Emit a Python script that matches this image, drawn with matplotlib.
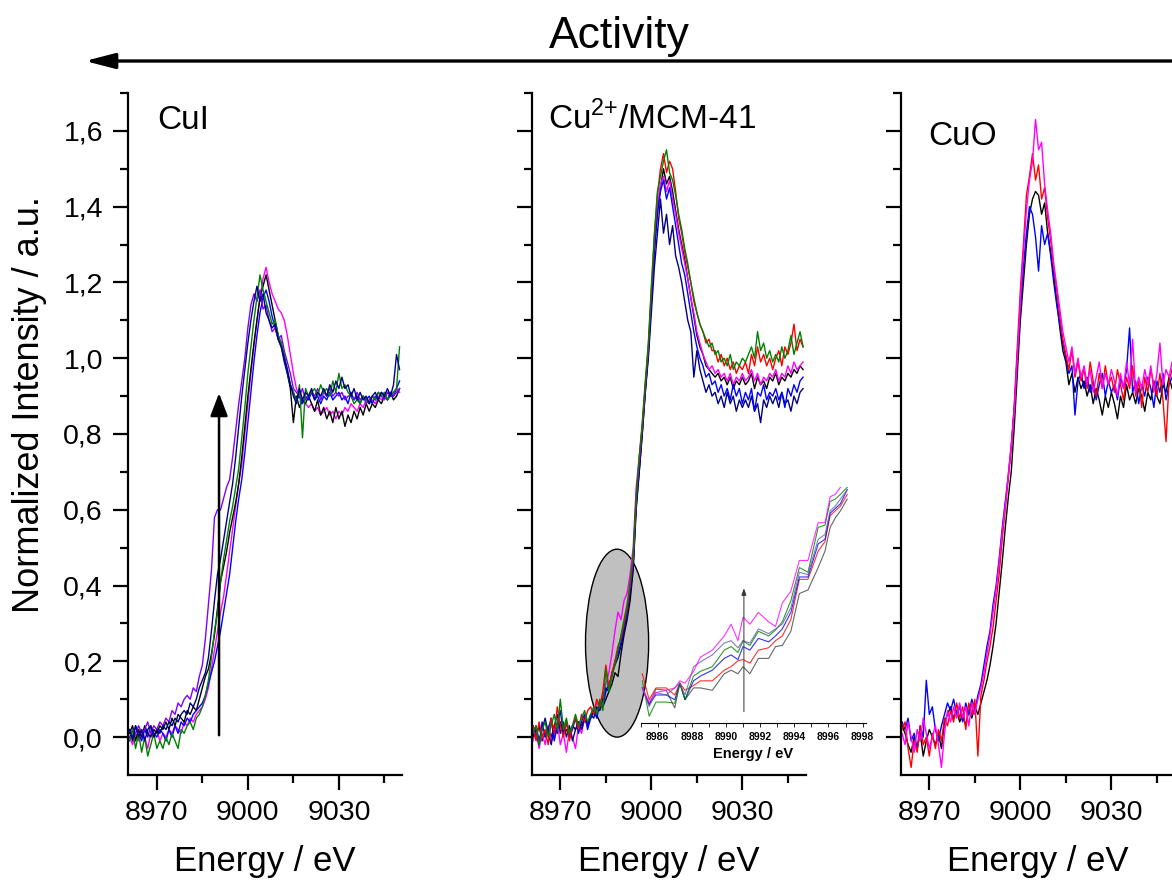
"""Cu K-edge XANES of CuI, Cu2+/MCM-41 and CuO, ordered by activity."""
import numpy as np
import matplotlib
matplotlib.use("Agg")
import matplotlib.pyplot as plt
from matplotlib.patches import Ellipse, FancyArrowPatch
from matplotlib.ticker import FixedLocator, FuncFormatter

plt.rcParams["font.family"] = ["Liberation Sans", "DejaVu Sans"]
plt.rcParams["mathtext.fontset"] = "custom"
plt.rcParams["mathtext.rm"] = "Liberation Sans"

W, H = 1172, 881

# shared energy grid of the main panels, 8961 .. 9050 eV
energy = np.arange(8961, 9051, 1.0)

# ---------------- CuI ----------------
cui_navy = [
    0.02, -0.01, 0.03, 0.00, 0.02, -0.01, 0.02, 0.03, 0.00, 0.02,
    0.01, 0.03, 0.02, 0.04, 0.03, 0.05, 0.04, 0.06, 0.07, 0.06,
    0.09, 0.08, 0.10, 0.13, 0.15, 0.17, 0.21, 0.28, 0.36, 0.43,
    0.47, 0.52, 0.57, 0.62, 0.67, 0.74, 0.82, 0.90, 0.97, 1.04,
    1.10, 1.15, 1.19, 1.15, 1.17, 1.12, 1.10, 1.08, 1.09, 1.05,
    1.03, 1.00, 0.97, 0.93, 0.90, 0.88, 0.92, 0.89, 0.91, 0.90,
    0.92, 0.89, 0.91, 0.90, 0.92, 0.90, 0.93, 0.91, 0.94, 0.92,
    0.95, 0.92, 0.93, 0.90, 0.92, 0.89, 0.91, 0.89, 0.90, 0.88,
    0.90, 0.91, 0.89, 0.91, 0.90, 0.92, 0.90, 0.93, 1.01, 0.97,
]
cui_violet = [
    0.00, 0.02, 0.01, 0.03, 0.01, 0.02, 0.04, 0.01, 0.03, 0.02,
    0.04, 0.03, 0.05, 0.04, 0.07, 0.06, 0.09, 0.08, 0.10, 0.11,
    0.10, 0.13, 0.12, 0.16, 0.19, 0.26, 0.35, 0.44, 0.58, 0.60,
    0.60, 0.63, 0.66, 0.68, 0.74, 0.81, 0.88, 0.94, 1.00, 1.08,
    1.14, 1.17, 1.15, 1.18, 1.13, 1.14, 1.10, 1.07, 1.08, 1.05,
    1.06, 1.02, 0.99, 0.96, 0.92, 0.91, 0.90, 0.92, 0.89, 0.90,
    0.91, 0.90, 0.92, 0.89, 0.91, 0.90, 0.92, 0.90, 0.91, 0.90,
    0.91, 0.89, 0.90, 0.90, 0.89, 0.91, 0.89, 0.90, 0.88, 0.89,
    0.90, 0.89, 0.91, 0.90, 0.89, 0.91, 0.90, 0.90, 0.91, 0.92,
]
cui_green = [
    -0.01, 0.02, -0.03, 0.01, -0.04, 0.00, -0.05, -0.02, 0.01, -0.03,
    -0.01, -0.03, 0.00, -0.02, 0.01, -0.01, -0.03, 0.02, 0.01, 0.03,
    0.04, 0.02, 0.05, 0.06, 0.08, 0.11, 0.15, 0.21, 0.28, 0.33,
    0.41, 0.47, 0.52, 0.57, 0.61, 0.66, 0.71, 0.79, 0.87, 0.96,
    1.03, 1.10, 1.16, 1.22, 1.18, 1.15, 1.12, 1.09, 1.10, 1.06,
    1.04, 1.01, 0.97, 0.93, 0.91, 0.88, 0.93, 0.79, 0.92, 0.90,
    0.91, 0.92, 0.90, 0.93, 0.91, 0.92, 0.90, 0.94, 0.91, 0.96,
    0.92, 0.93, 0.91, 0.90, 0.88, 0.89, 0.88, 0.90, 0.89, 0.88,
    0.90, 0.89, 0.91, 0.90, 0.91, 0.89, 0.90, 0.91, 0.92, 1.03,
]
cui_black = [
    0.01, 0.03, -0.01, 0.02, 0.00, 0.03, 0.01, 0.00, 0.02, 0.01,
    0.03, 0.02, 0.04, 0.02, 0.05, 0.03, 0.06, 0.05, 0.04, 0.07,
    0.06, 0.08, 0.07, 0.10, 0.13, 0.16, 0.18, 0.22, 0.27, 0.34,
    0.41, 0.45, 0.49, 0.54, 0.58, 0.62, 0.67, 0.74, 0.82, 0.90,
    0.97, 1.04, 1.10, 1.16, 1.19, 1.22, 1.18, 1.14, 1.10, 1.06,
    1.04, 1.00, 0.96, 0.92, 0.83, 0.90, 0.87, 0.89, 0.88, 0.90,
    0.88, 0.86, 0.89, 0.85, 0.87, 0.84, 0.86, 0.83, 0.87, 0.84,
    0.86, 0.82, 0.85, 0.83, 0.86, 0.84, 0.87, 0.85, 0.88, 0.86,
    0.88, 0.87, 0.89, 0.88, 0.90, 0.89, 0.91, 0.89, 0.90, 0.92,
]
cui_magenta = [
    0.00, -0.02, 0.01, -0.01, 0.02, 0.00, -0.03, 0.01, 0.00, 0.02,
    -0.01, 0.01, 0.00, 0.02, 0.01, 0.03, 0.02, 0.01, 0.04, 0.03,
    0.05, 0.04, 0.06, 0.07, 0.08, 0.10, 0.13, 0.18, 0.23, 0.28,
    0.33, 0.37, 0.43, 0.49, 0.55, 0.61, 0.67, 0.72, 0.80, 0.88,
    0.96, 1.03, 1.10, 1.16, 1.21, 1.24, 1.20, 1.17, 1.15, 1.13,
    1.12, 1.10, 1.06, 1.01, 0.96, 0.92, 0.90, 0.89, 0.88, 0.87,
    0.88, 0.86, 0.87, 0.85, 0.86, 0.87, 0.85, 0.86, 0.84, 0.86,
    0.85, 0.87, 0.86, 0.88, 0.87, 0.86, 0.88, 0.87, 0.89, 0.88,
    0.89, 0.88, 0.90, 0.89, 0.90, 0.91, 0.90, 0.91, 0.92, 0.91,
]
cui_blue = [
    0.02, 0.00, 0.03, 0.01, -0.01, 0.02, 0.00, 0.03, 0.01, 0.00,
    0.02, 0.01, -0.01, 0.02, 0.00, 0.03, 0.01, 0.04, 0.03, 0.05,
    0.04, 0.06, 0.07, 0.08, 0.09, 0.11, 0.14, 0.17, 0.20, 0.24,
    0.28, 0.33, 0.38, 0.43, 0.50, 0.57, 0.63, 0.68, 0.75, 0.83,
    0.91, 0.99, 1.06, 1.12, 1.16, 1.18, 1.15, 1.11, 1.08, 1.05,
    1.03, 0.99, 0.96, 0.93, 0.91, 0.89, 0.90, 0.88, 0.90, 0.89,
    0.91, 0.89, 0.90, 0.88, 0.90, 0.89, 0.91, 0.89, 0.90, 0.91,
    0.89, 0.90, 0.88, 0.91, 0.89, 0.90, 0.88, 0.90, 0.89, 0.90,
    0.88, 0.90, 0.89, 0.91, 0.90, 0.89, 0.91, 0.90, 0.92, 0.94,
]

# ---------------- Cu2+/MCM-41 ----------------
mcm_black = [
    0.02, 0.00, 0.03, -0.01, 0.01, 0.02, 0.00, 0.03, 0.01, 0.04,
    0.01, 0.02, 0.00, 0.03, 0.02, 0.04, 0.03, 0.05, 0.04, 0.05,
    0.07, 0.06, 0.09, 0.08, 0.10, 0.12, 0.14, 0.17, 0.16, 0.22,
    0.27, 0.31, 0.36, 0.44, 0.60, 0.70, 0.80, 0.91, 1.01, 1.15,
    1.29, 1.39, 1.45, 1.50, 1.46, 1.48, 1.44, 1.39, 1.34, 1.30,
    1.26, 1.21, 1.16, 1.11, 1.06, 1.03, 1.01, 0.98, 0.97, 0.96,
    0.95, 0.96, 0.94, 0.95, 0.93, 0.95, 0.92, 0.94, 0.93, 0.95,
    0.93, 0.94, 0.96, 0.92, 0.95, 0.93, 0.94, 0.92, 0.95, 0.94,
    0.96, 0.93, 0.95, 0.94, 0.96, 0.95, 0.97, 0.96, 0.98, 0.97,
]
mcm_magenta = [
    -0.01, 0.02, -0.03, 0.01, -0.02, 0.03, -0.01, 0.00, 0.04, -0.02,
    0.01, -0.04, 0.02, 0.00, -0.03, 0.03, 0.01, 0.05, 0.03, 0.06,
    0.07, 0.09, 0.08, 0.11, 0.14, 0.17, 0.22, 0.28, 0.33, 0.31,
    0.36, 0.38, 0.43, 0.50, 0.66, 0.74, 0.82, 0.92, 1.02, 1.16,
    1.30, 1.40, 1.46, 1.48, 1.44, 1.47, 1.42, 1.38, 1.33, 1.29,
    1.25, 1.21, 1.16, 1.12, 1.07, 1.04, 1.01, 0.99, 0.97, 0.98,
    0.96, 0.97, 0.95, 0.96, 0.94, 0.96, 0.93, 0.95, 0.94, 0.96,
    0.94, 0.95, 0.97, 0.94, 0.96, 0.93, 0.95, 0.94, 0.96, 0.95,
    0.97, 0.94, 0.96, 0.95, 0.98, 0.96, 0.99, 0.97, 0.98, 0.99,
]
mcm_navy = [
    0.00, 0.03, -0.01, 0.02, 0.05, 0.01, -0.02, 0.03, 0.06, 0.01,
    0.04, 0.00, 0.03, -0.01, 0.02, 0.04, 0.02, 0.05, 0.03, 0.06,
    0.05, 0.08, 0.07, 0.10, 0.13, 0.12, 0.17, 0.19, 0.21, 0.24,
    0.28, 0.33, 0.38, 0.45, 0.61, 0.70, 0.80, 0.91, 1.00, 1.12,
    1.24, 1.33, 1.42, 1.33, 1.38, 1.30, 1.35, 1.27, 1.24, 1.20,
    1.15, 1.10, 1.07, 0.95, 1.02, 0.97, 0.94, 0.91, 0.93, 0.90,
    0.91, 0.88, 0.90, 0.87, 0.91, 0.88, 0.90, 0.86, 0.89, 0.87,
    0.89, 0.87, 0.90, 0.86, 0.88, 0.83, 0.89, 0.87, 0.90, 0.88,
    0.90, 0.87, 0.91, 0.88, 0.89, 0.86, 0.90, 0.88, 0.91, 0.92,
]
mcm_blue = [
    0.03, 0.01, -0.02, 0.04, 0.00, 0.02, 0.05, -0.01, 0.03, 0.07,
    0.01, 0.04, 0.00, 0.02, 0.05, 0.01, 0.04, 0.06, 0.02, 0.05,
    0.07, 0.05, 0.09, 0.08, 0.12, 0.14, 0.16, 0.20, 0.22, 0.25,
    0.29, 0.33, 0.39, 0.46, 0.62, 0.71, 0.81, 0.92, 1.02, 1.15,
    1.28, 1.38, 1.44, 1.47, 1.42, 1.45, 1.40, 1.35, 1.30, 1.25,
    1.22, 1.17, 1.12, 1.07, 1.03, 1.00, 0.98, 0.95, 0.96, 0.93,
    0.94, 0.91, 0.93, 0.90, 0.92, 0.89, 0.93, 0.90, 0.92, 0.88,
    0.91, 0.89, 0.92, 0.86, 0.91, 0.90, 0.93, 0.89, 0.91, 0.90,
    0.92, 0.89, 0.91, 0.87, 0.92, 0.90, 0.93, 0.91, 0.94, 0.95,
]
mcm_red = [
    0.03, -0.01, 0.04, 0.00, 0.02, -0.02, 0.05, 0.01, 0.08, 0.03,
    0.00, 0.04, -0.01, 0.03, 0.05, 0.02, 0.06, 0.04, 0.07, 0.08,
    0.06, 0.10, 0.08, 0.12, 0.19, 0.13, 0.17, 0.20, 0.24, 0.26,
    0.30, 0.34, 0.40, 0.47, 0.64, 0.73, 0.82, 0.93, 1.03, 1.18,
    1.32, 1.43, 1.50, 1.54, 1.49, 1.52, 1.50, 1.44, 1.37, 1.33,
    1.28, 1.24, 1.20, 1.15, 1.12, 1.09, 1.07, 1.04, 1.05, 1.02,
    1.02, 0.99, 1.01, 0.98, 1.00, 0.97, 0.99, 0.96, 0.98, 0.97,
    0.99, 0.96, 1.01, 0.98, 1.03, 0.99, 1.01, 0.98, 1.00, 0.97,
    1.00, 1.02, 0.98, 1.03, 1.01, 1.04, 1.09, 1.02, 1.05, 1.03,
]
mcm_green = [
    0.01, 0.03, -0.02, 0.02, 0.04, 0.00, 0.03, 0.06, 0.02, 0.10,
    0.02, 0.05, 0.01, 0.03, 0.06, 0.03, 0.05, 0.07, 0.04, 0.06,
    0.08, 0.06, 0.10, 0.07, 0.18, 0.12, 0.16, 0.19, 0.23, 0.27,
    0.31, 0.35, 0.41, 0.48, 0.63, 0.74, 0.83, 0.94, 1.04, 1.19,
    1.33, 1.44, 1.48, 1.52, 1.55, 1.49, 1.47, 1.43, 1.38, 1.34,
    1.29, 1.25, 1.20, 1.16, 1.12, 1.09, 1.07, 1.05, 1.03, 1.04,
    1.01, 1.02, 0.99, 1.00, 0.98, 1.01, 0.97, 0.99, 0.98, 1.00,
    0.99, 1.01, 1.03, 1.00, 1.07, 1.02, 1.04, 1.00, 1.02, 0.99,
    1.01, 0.99, 1.03, 1.00, 1.02, 1.06, 1.01, 1.04, 1.07, 1.03,
]

# ---------------- CuO ----------------
cuo_black = [
    0.03, 0.01, -0.02, -0.04, 0.00, -0.03, 0.01, -0.05, -0.01, 0.02,
    0.00, -0.02, 0.01, -0.03, 0.04, 0.06, 0.08, 0.05, 0.07, 0.04,
    0.06, 0.03, 0.07, 0.05, 0.08, 0.06, 0.09, 0.12, 0.15, 0.19,
    0.24, 0.30, 0.38, 0.46, 0.55, 0.63, 0.70, 0.82, 0.96, 1.10,
    1.20, 1.30, 1.38, 1.42, 1.44, 1.43, 1.38, 1.41, 1.33, 1.28,
    1.22, 1.15, 1.08, 1.02, 0.99, 0.93, 0.96, 0.91, 0.95, 0.92,
    0.94, 0.90, 0.93, 0.88, 0.92, 0.89, 0.85, 0.90, 0.87, 0.91,
    0.88, 0.84, 0.90, 0.87, 0.93, 0.89, 0.91, 0.88, 0.92, 0.90,
    0.86, 0.91, 0.89, 0.94, 0.90, 0.88, 0.93, 0.91, 0.95, 0.92,
]
cuo_blue = [
    0.04, 0.02, 0.05, -0.01, 0.01, -0.03, 0.03, 0.00, 0.15, 0.06,
    0.08, 0.02, -0.01, 0.03, 0.06, 0.09, 0.07, 0.10, 0.06, 0.08,
    0.04, 0.09, 0.06, 0.10, 0.07, 0.11, 0.14, 0.19, 0.24, 0.28,
    0.35, 0.40, 0.47, 0.55, 0.62, 0.69, 0.77, 0.87, 1.01, 1.13,
    1.24, 1.33, 1.40, 1.38, 1.32, 1.23, 1.35, 1.30, 1.33, 1.27,
    1.20, 1.14, 1.09, 1.04, 1.00, 0.96, 0.98, 0.85, 0.94, 0.96,
    0.92, 0.95, 0.91, 0.94, 0.89, 0.93, 0.96, 0.90, 0.94, 0.91,
    0.93, 0.89, 0.95, 0.92, 0.97, 1.08, 0.91, 0.94, 0.88, 0.93,
    0.90, 0.95, 0.92, 0.87, 0.94, 0.91, 0.96, 0.89, 0.93, 0.95,
]
cuo_red = [
    0.02, 0.04, -0.03, -0.08, -0.01, -0.04, 0.03, -0.02, 0.00, -0.05,
    0.01, -0.03, 0.02, -0.01, 0.05, 0.03, 0.07, 0.04, 0.09, 0.05,
    0.08, 0.02, 0.09, 0.06, 0.10, -0.05, 0.11, 0.15, 0.20, 0.24,
    0.29, 0.36, 0.43, 0.52, 0.60, 0.68, 0.76, 0.88, 1.03, 1.18,
    1.30, 1.43, 1.48, 1.54, 1.47, 1.51, 1.42, 1.45, 1.37, 1.31,
    1.24, 1.18, 1.11, 1.05, 1.01, 0.97, 1.02, 0.95, 0.99, 0.94,
    0.97, 0.92, 0.99, 0.94, 0.90, 0.96, 0.92, 0.98, 0.93, 0.95,
    0.91, 0.97, 0.93, 0.89, 0.95, 0.92, 0.98, 0.90, 0.94, 0.87,
    0.95, 0.91, 0.97, 0.93, 0.90, 0.96, 0.89, 0.78, 0.94, 0.97,
]
cuo_magenta = [
    0.01, -0.02, 0.04, 0.00, -0.04, 0.02, -0.01, 0.05, 0.01, -0.03,
    0.00, 0.03, -0.02, -0.08, 0.01, 0.07, 0.04, 0.08, 0.05, 0.09,
    0.05, 0.08, 0.03, 0.09, 0.06, 0.10, 0.13, 0.17, 0.22, 0.27,
    0.33, 0.39, 0.46, 0.54, 0.61, 0.69, 0.77, 0.86, 1.00, 1.15,
    1.28, 1.39, 1.47, 1.52, 1.63, 1.55, 1.57, 1.46, 1.39, 1.33,
    1.25, 1.19, 1.13, 1.07, 1.03, 0.99, 1.03, 0.96, 1.00, 0.95,
    0.98, 0.93, 0.97, 0.91, 0.95, 0.99, 0.92, 0.96, 0.93, 0.97,
    0.94, 0.90, 0.96, 0.92, 0.99, 0.93, 1.05, 0.91, 0.95, 0.92,
    0.97, 0.93, 0.98, 0.91, 0.96, 1.04, 0.93, 0.97, 0.95, 0.99,
]

# ---------------- inset: pre-edge zoom of Cu2+/MCM-41 (relative scale) ----------------
inset_energy = [
    8985.1, 8985.5, 8985.9, 8986.5, 8987.0, 8987.3, 8987.6, 8988.1, 8988.5, 8989.2,
    8989.9, 8990.3, 8990.7, 8991.0, 8991.4, 8991.9, 8992.5, 8992.9, 8993.3, 8993.8,
    8994.3, 8994.8, 8995.4, 8995.8, 8996.1, 8996.4, 8996.7, 8997.1,
]
inset_magenta = [
    0.15, 0.09, 0.13, 0.14, 0.15, 0.18, 0.17, 0.22, 0.28, 0.31,
    0.37, 0.42, 0.35, 0.45, 0.42, 0.47, 0.43, 0.41, 0.51, 0.56,
    0.69, 0.69, 0.85, 0.85, 0.96, 0.97, 1.00, 1.02,
]
inset_navy = [
    0.15, 0.07, 0.13, 0.12, 0.15, 0.17, 0.12, 0.24, 0.26, 0.29,
    0.34, 0.35, 0.32, 0.35, 0.34, 0.40, 0.38, 0.40, 0.42, 0.49,
    0.64, 0.63, 0.78, 0.80, 0.90, 0.92, 0.95, 0.99,
]
inset_green = [
    0.18, 0.03, 0.09, 0.09, 0.085, 0.17, 0.10, 0.20, 0.22, 0.24,
    0.31, 0.325, 0.30, 0.35, 0.33, 0.39, 0.37, 0.395, 0.43, 0.52,
    0.66, 0.64, 0.83, 0.84, 0.94, 0.95, 0.97, 1.00,
]
inset_blue = [
    0.15, 0.08, 0.12, 0.12, 0.10, 0.17, 0.10, 0.18, 0.20, 0.225,
    0.275, 0.29, 0.27, 0.325, 0.31, 0.36, 0.345, 0.37, 0.40, 0.47,
    0.62, 0.62, 0.76, 0.78, 0.89, 0.91, 0.93, 0.99,
]
inset_red = [
    0.21, 0.10, 0.15, 0.15, 0.12, 0.17, 0.14, 0.16, 0.18, 0.18,
    0.225, 0.24, 0.265, 0.27, 0.255, 0.31, 0.32, 0.35, 0.37, 0.44,
    0.61, 0.61, 0.73, 0.77, 0.88, 0.90, 0.92, 0.97,
]
inset_black = [
    0.15, 0.08, 0.145, 0.14, 0.065, 0.17, 0.10, 0.15, 0.15, 0.14,
    0.21, 0.225, 0.21, 0.24, 0.21, 0.275, 0.275, 0.325, 0.33, 0.39,
    0.55, 0.565, 0.66, 0.73, 0.83, 0.87, 0.90, 0.95,
]

BLACK, RED, GREEN, BLUE = "#000000", "#ff0000", "#008000", "#0000ff"
NAVY, MAGENTA, VIOLET = "#000080", "#ff00ff", "#8000ff"


def fx(px):
    return px / W


def fy(py):
    return 1 - py / H


def style_axes(ax, show_ylabels):
    ax.set_xlim(8960.5, 9050.8)
    ax.set_ylim(-0.1, 1.7)
    for s in ("top", "right"):
        ax.spines[s].set_visible(False)
    for s in ("left", "bottom"):
        ax.spines[s].set_linewidth(1.6)
    ax.xaxis.set_major_locator(FixedLocator([8970, 9000, 9030]))
    ax.xaxis.set_minor_locator(FixedLocator([8985, 9015, 9045]))
    ax.yaxis.set_major_locator(FixedLocator([0.0, 0.2, 0.4, 0.6, 0.8, 1.0, 1.2, 1.4, 1.6]))
    ax.yaxis.set_minor_locator(FixedLocator([0.1, 0.3, 0.5, 0.7, 0.9, 1.1, 1.3, 1.5, 1.7]))
    ax.yaxis.set_major_formatter(FuncFormatter(lambda v, _: f"{v:.1f}".replace(".", ",")))
    ax.tick_params(which="major", direction="out", length=11, width=1.6,
                   labelsize=20.5, pad=7, labelleft=show_ylabels)
    ax.tick_params(which="minor", direction="out", length=6, width=1.6)
    ax.set_xlabel("Energy / eV", fontsize=25)
    ax.xaxis.set_label_coords(0.5, -0.127)
    ax.xaxis.label.set_va("center")


def main():
    fig = plt.figure(figsize=(W / 100, H / 100), dpi=100)
    width, height = 274 / W, 682 / H
    bottom = fy(775)
    ax1 = fig.add_axes([fx(128), bottom, width, height])
    ax2 = fig.add_axes([fx(531.5), bottom, width, height])
    ax3 = fig.add_axes([fx(900.5), bottom, width, height])

    # -------- CuI --------
    for vals, c in [(cui_magenta, MAGENTA), (cui_black, BLACK), (cui_blue, BLUE),
                    (cui_violet, VIOLET), (cui_green, GREEN), (cui_navy, NAVY)]:
        ax1.plot(energy, vals, color=c, lw=1.0, zorder=2)
    style_axes(ax1, True)
    ax1.set_ylabel("Normalized Intensity / a.u.", fontsize=26)
    ax1.yaxis.set_label_coords(-0.358, 0.543)
    ax1.yaxis.label.set_va("center")
    ax1.text(0.106, 0.947, "CuI", transform=ax1.transAxes, fontsize=24, va="baseline")
    ax1.annotate("", xy=(8990.5, 0.908), xytext=(8990.5, 0.005),
                 arrowprops=dict(arrowstyle="-|>,head_length=1.0,head_width=0.38",
                                 lw=1.8, color="black", shrinkA=0, shrinkB=0,
                                 mutation_scale=14))

    # -------- Cu2+/MCM-41 --------
    ax2.add_patch(Ellipse((8988.7, 0.248), 20.8, 0.496, facecolor="#c0c0c0",
                          edgecolor="black", lw=1.0, zorder=1))
    for vals, c in [(mcm_black, BLACK), (mcm_magenta, MAGENTA), (mcm_navy, NAVY),
                    (mcm_blue, BLUE), (mcm_red, RED), (mcm_green, GREEN)]:
        ax2.plot(energy, vals, color=c, lw=1.0, zorder=2)
    style_axes(ax2, False)
    ax2.text(0.061, 0.947, r"Cu$^{\mathrm{2{+}}}$/MCM-41", transform=ax2.transAxes,
             fontsize=24, va="baseline")

    # -------- CuO --------
    for vals, c in [(cuo_black, BLACK), (cuo_blue, BLUE), (cuo_red, RED),
                    (cuo_magenta, MAGENTA)]:
        ax3.plot(energy, vals, color=c, lw=1.0, zorder=2)
    style_axes(ax3, False)
    ax3.text(0.101, 0.924, "CuO", transform=ax3.transAxes, fontsize=24, va="baseline")

    # -------- inset --------
    ins = fig.add_axes([fx(640.6), fy(723.3), 225.4 / W, 236 / H])
    ins.patch.set_visible(False)
    for s in ("top", "right", "left"):
        ins.spines[s].set_visible(False)
    ins.spines["bottom"].set_linewidth(0.8)
    for vals, c in [(inset_black, "#404040"), (inset_red, RED), (inset_blue, BLUE),
                    (inset_green, GREEN), (inset_navy, "#6060a8"), (inset_magenta, MAGENTA)]:
        ins.plot(inset_energy, vals, color=c, lw=0.8, alpha=0.8)
    ins.set_xlim(8985.0, 8998.2)
    ins.set_ylim(0, 1.0)
    ins.set_yticks([])
    major = [8986, 8988, 8990, 8992, 8994, 8996, 8998]
    ins.set_xticks(major, labels=[str(m) for m in major], fontsize=7.5, fontweight="bold")
    ins.xaxis.set_minor_locator(FixedLocator([8985, 8987, 8989, 8991, 8993, 8995, 8997]))
    ins.tick_params(which="both", direction="out", length=3, width=0.6, pad=3)
    ins.set_xlabel("Energy / eV", fontsize=10.5, fontweight="bold")
    ins.xaxis.set_label_coords(0.5, -0.13)
    ins.xaxis.label.set_va("center")
    ins.annotate("", xy=(8991.05, 0.572), xytext=(8991.05, 0.049),
                 arrowprops=dict(arrowstyle="-|>,head_length=0.5,head_width=0.18",
                                 lw=0.7, color="#333333", shrinkA=0, shrinkB=0,
                                 mutation_scale=8))

    # -------- activity arrow --------
    fig.add_artist(FancyArrowPatch((1.01, fy(61)), (fx(85), fy(61)),
                                   transform=fig.transFigure,
                                   arrowstyle="-|>,head_length=1.2,head_width=0.31",
                                   mutation_scale=15, lw=2.4, color="black",
                                   shrinkA=0, shrinkB=0))
    fig.text(fx(619), fy(48.4), "Activity", ha="center", va="baseline", fontsize=32)

    fig.savefig("out.png", dpi=100)


if __name__ == "__main__":
    main()
